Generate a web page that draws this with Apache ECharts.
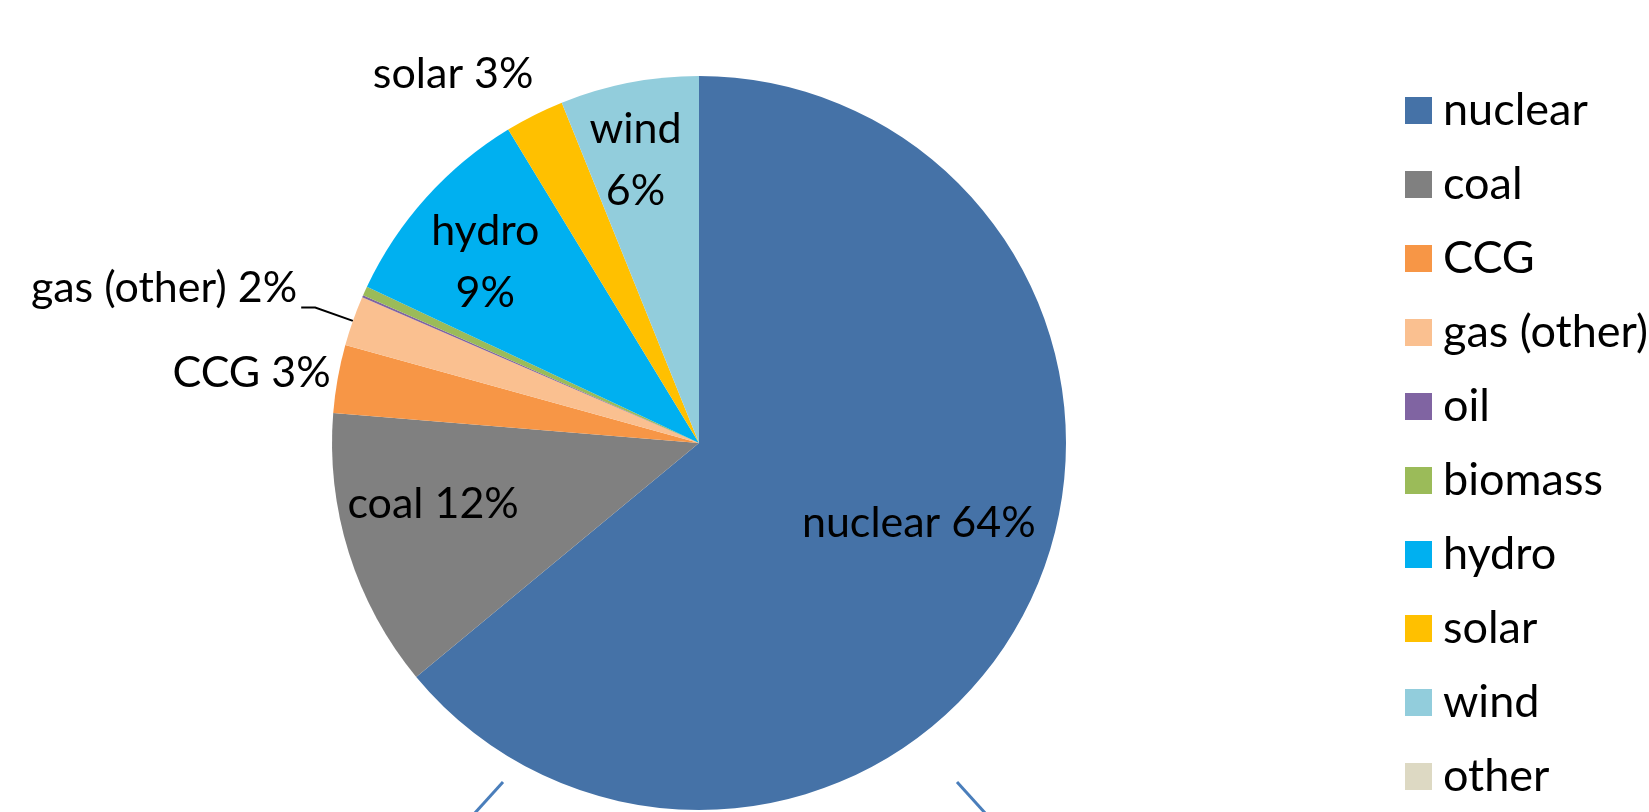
<!DOCTYPE html>
<html><head><meta charset="utf-8">
<script src="https://cdn.jsdelivr.net/npm/echarts@6/dist/echarts.min.js"></script>
<style>html,body{margin:0;padding:0;background:#fff}#c{width:1649px;height:812px}</style>
</head><body><div id="c"></div>
<script>
const categories = ['nuclear','coal','CCG','gas (other)','oil','biomass','hydro','solar','wind','other'];
const shares = [64.0, 12.3, 3.0, 2.2, 0.1, 0.4, 9.3, 2.6, 6.1, 0];
const sliceColors = ['#4572A7','#808080','#F79646','#FAC090','#8064A2','#9BBB59','#00B0F0','#FFC000','#92CDDC','#DDD9C3'];

const FONT = 'Lato';
const insideIdx = [0,1,6,8];
const outsideIdx = [2,3,7];
const twoLine = [6,8];

const data = categories.map((name, i) => {
  const item = { name, value: shares[i], itemStyle: { color: sliceColors[i] } };
  if (insideIdx.includes(i)) {
    item.label = { show: true, position: 'inside', formatter: twoLine.includes(i) ? '{b}\n{d}%' : '{b} {d}%' };
    item.labelLine = { show: false };
  } else if (outsideIdx.includes(i)) {
    if (i === 3) {
      item.label = { show: true, position: 'outside', formatter: '{b} {d}%' };
      item.labelLine = { show: true, length: 40, length2: 14, lineStyle: { color: '#000', width: 2 } };
    } else {
      item.label = { show: true, position: 'outside', formatter: '{b} {d}%' };
      item.labelLine = { show: false, length: 0, length2: 0 };
    }
  } else {
    item.label = { show: false };
    item.labelLine = { show: false };
  }
  return item;
});

const shift = { 0: [51, 1], 1: [-88, 5], 6: [-75, -56], 8: [-28, -100], 7: [4, -41], 2: [-2, -6], 3: [1, -19] };

const chart = echarts.init(document.getElementById('c'), null, { renderer: 'canvas' });
chart.setOption({
  animation: false,
  legend: {
    orient: 'vertical',
    left: 1405,
    top: 88,
    padding: 0,
    itemWidth: 27,
    itemHeight: 27,
    itemGap: 29,
    icon: 'rect',
    data: categories,
    textStyle: { fontFamily: FONT, fontSize: 45, color: '#000', padding: [0,0,0,6] }
  },
  series: [{
    type: 'pie',
    center: [699, 443],
    radius: 367,
    startAngle: 90,
    clockwise: true,
    avoidLabelOverlap: false,
    percentPrecision: 0,
    itemStyle: { borderWidth: 0 },
    emphasis: { disabled: true },
    label: { fontFamily: FONT, fontSize: 43, color: '#000', lineHeight: 62, distanceToLabelLine: 5 },
    labelLayout: (p) => {
      const s = shift[p.dataIndex];
      return s ? { dx: s[0], dy: s[1] } : {};
    },
    data
  }],
  graphic: [
    { type: 'line', shape: { x1: 503, y1: 782, x2: 474, y2: 814 }, style: { stroke: '#4A7EBB', lineWidth: 3 } },
    { type: 'line', shape: { x1: 957, y1: 782, x2: 986, y2: 814 }, style: { stroke: '#4A7EBB', lineWidth: 3 } }
  ]
});
</script></body></html>
